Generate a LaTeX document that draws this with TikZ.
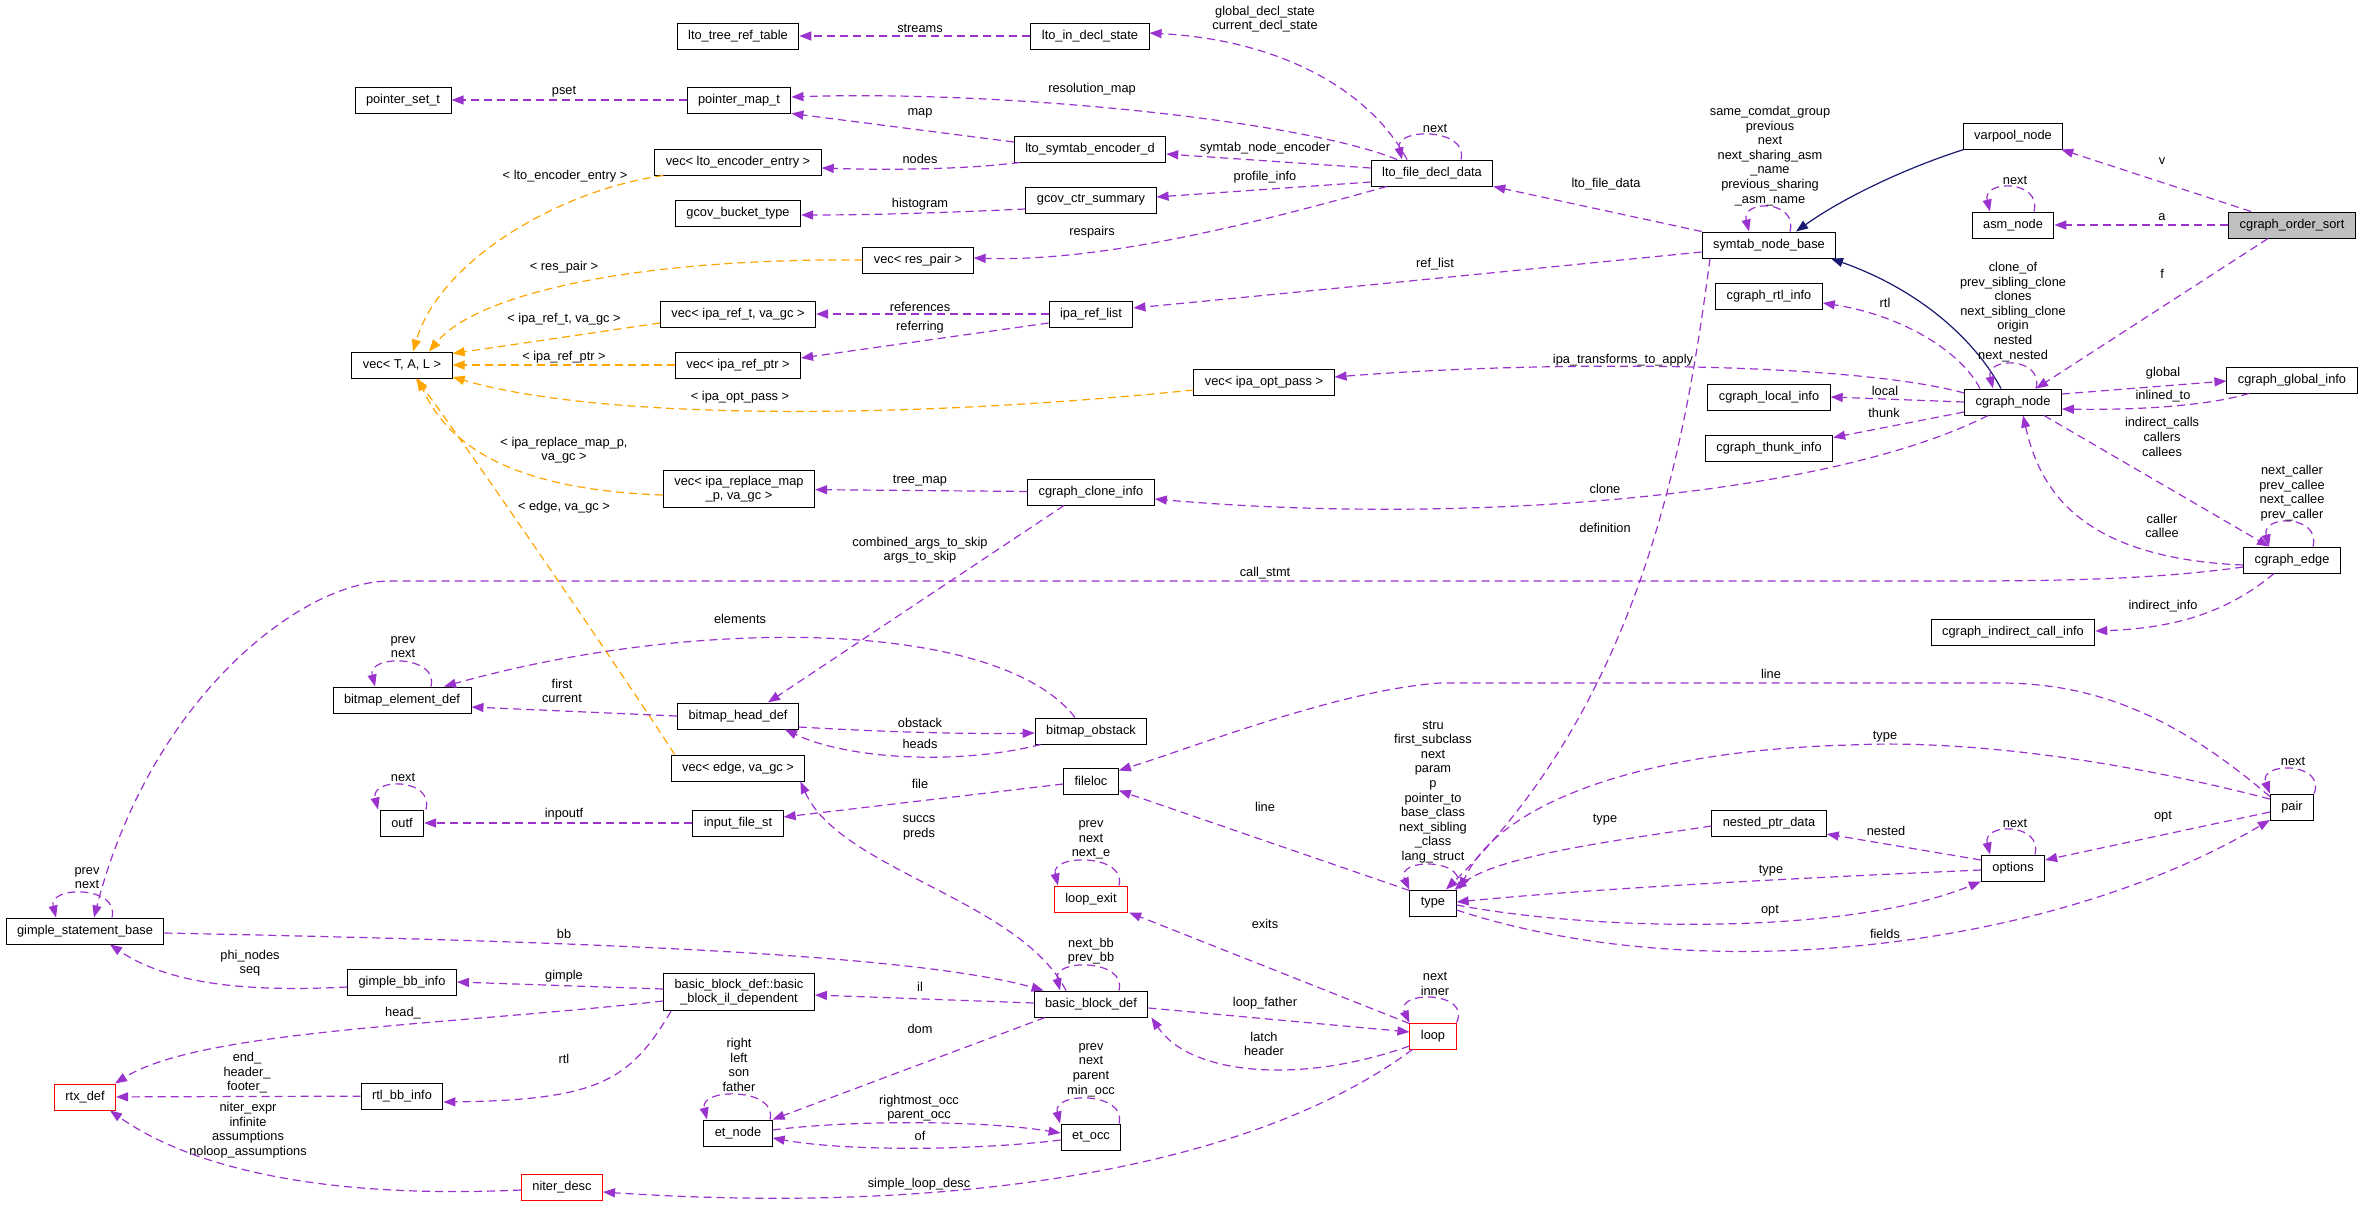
\documentclass[tikz,border=0pt]{standalone}
\usepackage{fontspec}
\setmainfont{Liberation Sans}
\usetikzlibrary{arrows.meta}

\definecolor{edgepurple}{HTML}{9A32CD}
\definecolor{edgeorange}{HTML}{FFA500}
\definecolor{inhblue}{HTML}{191970}
\definecolor{sortgray}{HTML}{BFBFBF}

\begin{document}
\begin{tikzpicture}[x=1pt, y=1pt,
		font=\fontsize{12.8pt}{14.6pt}\selectfont,
		classbox/.style={draw=black, line width=1pt, fill=white, minimum height=26pt, inner xsep=11pt, inner ysep=5.5pt, align=center},
		redbox/.style={classbox, draw=red},
		member/.style={draw=edgepurple, line width=1.2pt, dash pattern=on 8pt off 5pt, -{Triangle[length=12pt,width=9pt]}},
		tmplarg/.style={member, draw=edgeorange},
		inherit/.style={draw=inhblue, line width=1.2pt, -{Triangle[length=12pt,width=9pt]}},
		edgelabel/.style={inner sep=0pt, align=center}]
		\path[use as bounding box, fill=white] (0,0) rectangle (2363,-1205);

		\node[classbox] (treereftab) at (738,-36) {lto\_tree\_ref\_table};
		\node[classbox] (indeclstate) at (1090,-36) {lto\_in\_decl\_state};
		\node[classbox] (pointerset) at (403,-100) {pointer\_set\_t};
		\node[classbox] (pointermap) at (739,-100) {pointer\_map\_t};
		\node[classbox] (vecencoder) at (738,-162) {vec< lto\_encoder\_entry >};
		\node[classbox] (gcovbucket) at (738,-213) {gcov\_bucket\_type};
		\node[classbox] (vecrespair) at (918,-260) {vec< res\_pair >};
		\node[classbox] (symtabencoder) at (1090,-149) {lto\_symtab\_encoder\_d};
		\node[classbox] (gcovsummary) at (1091,-200) {gcov\_ctr\_summary};
		\node[classbox] (filedecldata) at (1432,-173) {lto\_file\_decl\_data};
		\node[classbox] (symtabbase) at (1769,-245) {symtab\_node\_base};
		\node[classbox] (varpool) at (2013,-136) {varpool\_node};
		\node[classbox] (asmnode) at (2013,-225) {asm\_node};
		\node[classbox, fill=sortgray] (ordersort) at (2292,-225) {cgraph\_order\_sort};
		\node[classbox] (rtlinfo) at (1769,-296) {cgraph\_rtl\_info};
		\node[classbox] (vectal) at (402,-365) {vec< T, A, L >};
		\node[classbox] (vecreft) at (738,-314) {vec< ipa\_ref\_t, va\_gc >};
		\node[classbox] (reflist) at (1091,-314) {ipa\_ref\_list};
		\node[classbox] (vecrefptr) at (738,-365) {vec< ipa\_ref\_ptr >};
		\node[classbox] (vecoptpass) at (1264,-382) {vec< ipa\_opt\_pass >};
		\node[classbox] (cgnode) at (2013,-402) {cgraph\_node};
		\node[classbox] (localinfo) at (1769,-397) {cgraph\_local\_info};
		\node[classbox] (thunkinfo) at (1769,-448) {cgraph\_thunk\_info};
		\node[classbox] (globalinfo) at (2292,-380) {cgraph\_global\_info};
		\node[classbox] (vecreplace) at (739,-489) {vec< ipa\_replace\_map\\\_p, va\_gc >};
		\node[classbox] (cloneinfo) at (1091,-492) {cgraph\_clone\_info};
		\node[classbox] (cgedge) at (2292,-560) {cgraph\_edge};
		\node[classbox] (indirectinfo) at (2013,-632) {cgraph\_indirect\_call\_info};
		\node[classbox] (bmelement) at (402,-700) {bitmap\_element\_def};
		\node[classbox] (bmhead) at (738,-716) {bitmap\_head\_def};
		\node[classbox] (bmobstack) at (1091,-731) {bitmap\_obstack};
		\node[classbox] (vecedge) at (738,-768) {vec< edge, va\_gc >};
		\node[classbox] (fileloc) at (1091,-781) {fileloc};
		\node[classbox] (outf) at (402,-823) {outf};
		\node[classbox] (inputfile) at (738,-823) {input\_file\_st};
		\node[classbox] (nestedptr) at (1769,-823) {nested\_ptr\_data};
		\node[classbox] (pair) at (2292,-807) {pair};
		\node[classbox] (options) at (2013,-868) {options};
		\node[redbox] (loopexit) at (1091,-899) {loop\_exit};
		\node[classbox] (type) at (1433,-903) {type};
		\node[classbox] (gimplestmt) at (85,-931) {gimple\_statement\_base};
		\node[classbox] (gimplebb) at (402,-982) {gimple\_bb\_info};
		\node[classbox] (bbil) at (739,-992) {basic\_block\_def::basic\\\_block\_il\_dependent};
		\node[classbox] (bbdef) at (1091,-1004) {basic\_block\_def};
		\node[redbox] (loop) at (1433,-1036) {loop};
		\node[redbox] (rtxdef) at (85,-1097) {rtx\_def};
		\node[classbox] (rtlbb) at (402,-1096) {rtl\_bb\_info};
		\node[classbox] (etnode) at (738,-1133) {et\_node};
		\node[classbox] (etocc) at (1091,-1137) {et\_occ};
		\node[redbox] (niterdesc) at (562,-1187) {niter\_desc};

		\draw[member] (indeclstate) -- (treereftab) node[edgelabel] at (920,-28) {streams};
		\draw[member] ([xshift=-25pt]filedecldata.north) .. controls (1370,-90) and (1280,-40) .. ([yshift=3pt]indeclstate.east) node[edgelabel] at (1265,-19) {global\_decl\_state\\current\_decl\_state};
		\draw[member] ([xshift=29pt]filedecldata.north) .. controls +(8,32) and +(-8,32) .. ([xshift=-30pt]filedecldata.north) node[edgelabel] at (1435,-128) {next};
		\draw[member] (pointermap) -- (pointerset) node[edgelabel] at (564,-92) {pset};
		\draw[member] ([xshift=-35pt]filedecldata.north) .. controls (1300,-120) and (1000,-90) .. ([yshift=3pt]pointermap.east) node[edgelabel] at (1092,-89) {resolution\_map};
		\draw[member] ([yshift=7pt]symtabencoder.west) -- (pointermap.south east) node[edgelabel] at (920,-113) {map};
		\draw[member] ([xshift=6pt]symtabencoder.south west) .. controls (960,-170) and (880,-170) .. ([yshift=-6pt]vecencoder.east) node[edgelabel] at (920,-159) {nodes};
		\draw[member] ([yshift=5pt]filedecldata.west) -- ([yshift=-5pt]symtabencoder.east) node[edgelabel] at (1265,-148) {symtab\_node\_encoder};
		\draw[member] ([yshift=-9pt]filedecldata.west) -- ([yshift=3pt]gcovsummary.east) node[edgelabel] at (1265,-177) {profile\_info};
		\draw[member] ([yshift=-9pt]gcovsummary.west) .. controls (960,-212) and (880,-215) .. ([yshift=-2pt]gcovbucket.east) node[edgelabel] at (920,-204) {histogram};
		\draw[member] ([xshift=16pt]filedecldata.south west) .. controls (1250,-225) and (1100,-262) .. ([yshift=2pt]vecrespair.east) node[edgelabel] at (1092,-232) {respairs};
		\draw[member] (symtabbase.north west) -- (filedecldata.south east) node[edgelabel] at (1606,-184) {lto\_file\_data};
		\draw[member] ([xshift=21pt]symtabbase.north) .. controls +(8,32) and +(-8,32) .. ([xshift=-20pt]symtabbase.north) node[edgelabel] at (1770,-156) {same\_comdat\_group\\previous\\next\\next\_sharing\_asm\\\_name\\previous\_sharing\\\_asm\_name};
		\draw[inherit] ([xshift=1pt]varpool.south west) .. controls (1900,-170) and (1840,-200) .. ([xshift=27pt]symtabbase.north);
		\draw[inherit] ([xshift=-12pt]cgnode.north) .. controls (1975,-340) and (1920,-290) .. ([xshift=62pt]symtabbase.south);
		\draw[member] ([xshift=-41pt]ordersort.north) -- ([xshift=-2pt]varpool.south east) node[edgelabel] at (2162,-161) {v};
		\draw[member] (ordersort) -- (asmnode) node[edgelabel] at (2162,-217) {a};
		\draw[member] ([xshift=21pt]asmnode.north) .. controls +(8,32) and +(-8,32) .. ([xshift=-23pt]asmnode.north) node[edgelabel] at (2015,-180) {next};
		\draw[member] ([xshift=-24pt]ordersort.south) -- ([xshift=23pt]cgnode.north) node[edgelabel] at (2162,-274) {f};
		\draw[member] ([yshift=-7pt]symtabbase.west) .. controls (1500,-272) and (1300,-292) .. ([yshift=6pt]reflist.east) node[edgelabel] at (1435,-264) {ref\_list};
		\draw[member] (reflist) -- (vecreft) node[edgelabel] at (920,-307) {references};
		\draw[member] ([yshift=-9pt]reflist.west) -- ([yshift=7pt]vecrefptr.east) node[edgelabel] at (920,-327) {referring};
		\draw[member] ([yshift=9pt]cgnode.west) .. controls (1850,-362) and (1550,-360) .. ([yshift=5pt]vecoptpass.east) node[edgelabel] at (1623,-360) {ipa\_transforms\_to\_apply};
		\draw[member] ([xshift=-33pt]cgnode.north) .. controls (1960,-350) and (1900,-315) .. ([yshift=-7pt]rtlinfo.east) node[edgelabel] at (1885,-303) {rtl};
		\draw[member] ([xshift=23pt]cgnode.north) .. controls +(8,32) and +(-8,32) .. ([xshift=-20pt]cgnode.north) node[edgelabel] at (2013,-312) {clone\_of\\prev\_sibling\_clone\\clones\\next\_sibling\_clone\\origin\\nested\\next\_nested};
		\draw[member] (cgnode.west) -- (localinfo.east) node[edgelabel] at (1885,-391) {local};
		\draw[member] ([yshift=-10pt]cgnode.west) -- ([yshift=-3pt]thunkinfo.north east) node[edgelabel] at (1884,-413) {thunk};
		\draw[member] ([yshift=8pt]cgnode.east) -- ([yshift=-1pt]globalinfo.west) node[edgelabel] at (2163,-373) {global};
		\draw[member] ([xshift=-43pt]globalinfo.south) .. controls (2200,-408) and (2120,-410) .. ([yshift=-7pt]cgnode.east) node[edgelabel] at (2163,-396) {inlined\_to};
		\draw[member] ([xshift=31pt]cgnode.south) -- ([xshift=-23pt]cgedge.north) node[edgelabel] at (2162,-437) {indirect\_calls\\callers\\callees};
		\draw[member] ([yshift=-5pt]cgedge.west) .. controls (2080,-558) and (2040,-490) .. ([xshift=10pt]cgnode.south) node[edgelabel] at (2162,-526) {caller\\callee};
		\draw[member] ([xshift=21pt]cgedge.north) .. controls +(8,32) and +(-8,32) .. ([xshift=-23pt]cgedge.north) node[edgelabel] at (2292,-493) {next\_caller\\prev\_callee\\next\_callee\\prev\_caller};
		\draw[member] ([xshift=-25pt]cgnode.south) .. controls (1820,-500) and (1450,-525) .. ([yshift=-7pt]cloneinfo.east) node[edgelabel] at (1605,-489) {clone};
		\draw[member] ([xshift=-59pt]symtabbase.south) .. controls (1685,-450) and (1640,-700) .. ([xshift=13pt]type.north) node[edgelabel] at (1605,-528) {definition};
		\draw[member] ([yshift=-7pt]cgedge.west) .. controls (2150,-580) and (2050,-581) .. (1950,-581) -- (390,-581) .. controls (300,-581) and (150,-700) .. ([xshift=9pt]gimplestmt.north) node[edgelabel] at (1265,-573) {call\_stmt};
		\draw[member] ([xshift=-18pt]cgedge.south) .. controls (2230,-610) and (2180,-628) .. ([yshift=1pt]indirectinfo.east) node[edgelabel] at (2163,-606) {indirect\_info};

		\draw[tmplarg] ([xshift=9pt]vecencoder.south west) .. controls (560,-190) and (440,-260) .. ([xshift=11pt]vectal.north) node[edgelabel] at (565,-176) {< lto\_encoder\_entry >};
		\draw[tmplarg] (vecrespair.west) .. controls (650,-258) and (480,-290) .. ([xshift=27pt]vectal.north) node[edgelabel] at (564,-267) {< res\_pair >};
		\draw[tmplarg] ([yshift=-9pt]vecreft.west) -- ([yshift=-2pt]vectal.north east) node[edgelabel] at (564,-319) {< ipa\_ref\_t, va\_gc >};
		\draw[tmplarg] (vecrefptr) -- (vectal) node[edgelabel] at (564,-357) {< ipa\_ref\_ptr >};
		\draw[tmplarg] ([yshift=-8pt]vecoptpass.west) .. controls (900,-420) and (600,-420) .. ([yshift=-12pt]vectal.east) node[edgelabel] at (740,-397) {< ipa\_opt\_pass >};
		\draw[tmplarg] ([yshift=-6pt]vecreplace.west) .. controls (520,-490) and (450,-450) .. ([xshift=16pt]vectal.south) node[edgelabel] at (564,-450) {< ipa\_replace\_map\_p,\\va\_gc >};
		\draw[tmplarg] ([xshift=4pt]vecedge.north west) .. controls (640,-700) and (470,-450) .. ([xshift=14pt]vectal.south) node[edgelabel] at (564,-507) {< edge, va\_gc >};

		\draw[member] (cloneinfo) -- (vecreplace) node[edgelabel] at (920,-481) {tree\_map};
		\draw[member] ([xshift=-27pt]cloneinfo.south) -- ([xshift=30pt]bmhead.north) node[edgelabel] at (920,-550) {combined\_args\_to\_skip\\args\_to\_skip};
		\draw[member] ([xshift=-16pt]bmobstack.north) .. controls (1000,-620) and (700,-615) .. ([xshift=42pt]bmelement.north) node[edgelabel] at (740,-619) {elements};
		\draw[member] ([xshift=29pt]bmelement.north) .. controls +(8,32) and +(-8,32) .. ([xshift=-27pt]bmelement.north) node[edgelabel] at (403,-647) {prev\\next};
		\draw[member] (bmhead.west) -- ([yshift=-7pt]bmelement.east) node[edgelabel] at (562,-691) {first\\current};
		\draw[member] ([yshift=-11pt]bmhead.east) .. controls (900,-733) and (980,-734) .. ([yshift=-2pt]bmobstack.west) node[edgelabel] at (920,-723) {obstack};
		\draw[member] ([xshift=6pt]bmobstack.south west) .. controls (960,-765) and (850,-760) .. ([xshift=-14pt]bmhead.south east) node[edgelabel] at (920,-744) {heads};
		\draw[member] ([xshift=24pt]outf.north) .. controls +(8,32) and +(-8,32) .. ([xshift=-24pt]outf.north) node[edgelabel] at (403,-777) {next};
		\draw[member] (inputfile) -- (outf) node[edgelabel] at (564,-814) {inpoutf};
		\draw[member] ([yshift=-3pt]fileloc.west) -- ([yshift=6pt]inputfile.east) node[edgelabel] at (920,-784) {file};
		\draw[member] ([yshift=-3pt]pair.north west) .. controls (2180,-720) and (2100,-683) .. (2000,-683) -- (1440,-683) .. controls (1340,-690) and (1200,-745) .. ([yshift=-3pt]fileloc.north east) node[edgelabel] at (1771,-674) {line};
		\draw[member] ([yshift=-1pt]type.north west) -- ([yshift=4pt]fileloc.south east) node[edgelabel] at (1265,-807) {line};
		\draw[member] ([xshift=-25pt]bbdef.north) .. controls (1020,-900) and (840,-870) .. ([xshift=-5pt]vecedge.south east) node[edgelabel] at (919,-828) {succs\\preds};
		\draw[member] ([xshift=28pt]loopexit.north) .. controls +(8,32) and +(-8,32) .. ([xshift=-33pt]loopexit.north) node[edgelabel] at (1091,-840) {prev\\next\\next\_e};
		\draw[member] (type.north east) .. controls +(15,32) and +(-15,32) .. (type.north west) node[edgelabel] at (1433,-792) {stru\\first\_subclass\\next\\param\\p\\pointer\_to\\base\_class\\next\_sibling\\\_class\\lang\_struct};
		\draw[member] ([yshift=8pt]pair.west) .. controls (2100,-755) and (1950,-740) .. (1850,-745) .. controls (1650,-750) and (1500,-800) .. ([xshift=3pt]type.north east) node[edgelabel] at (1885,-737) {type};
		\draw[member] ([yshift=-3pt]nestedptr.west) .. controls (1620,-840) and (1500,-855) .. ([xshift=-2pt]type.north east) node[edgelabel] at (1605,-820) {type};
		\draw[member] ([yshift=8pt]options.west) -- ([yshift=-11pt]nestedptr.east) node[edgelabel] at (1886,-831) {nested};
		\draw[member] ([xshift=22pt]options.north) .. controls +(8,32) and +(-8,32) .. ([xshift=-23pt]options.north) node[edgelabel] at (2015,-823) {next};
		\draw[member] ([yshift=-2pt]options.west) .. controls (1800,-878) and (1600,-888) .. ([yshift=1pt]type.east) node[edgelabel] at (1771,-871) {type};
		\draw[member] ([yshift=-5pt]pair.west) -- ([yshift=8pt]options.east) node[edgelabel] at (2163,-817) {opt};
		\draw[member] (pair.north east) .. controls +(12,32) and +(-12,32) .. (pair.north west) node[edgelabel] at (2293,-761) {next};
		\draw[member] ([yshift=-2pt]type.east) .. controls (1600,-932) and (1850,-935) .. (options.south west) node[edgelabel] at (1770,-911) {opt};
		\draw[member] ([yshift=-7pt]type.east) .. controls (1700,-990) and (2050,-950) .. ([yshift=-13pt]pair.west) node[edgelabel] at (1885,-934) {fields};

		\draw[member] ([yshift=-2pt]gimplestmt.east) .. controls (500,-940) and (900,-950) .. ([xshift=10pt]bbdef.north west) node[edgelabel] at (564,-934) {bb};
		\draw[member] ([xshift=27pt]gimplestmt.north) .. controls +(8,32) and +(-8,32) .. ([xshift=-29pt]gimplestmt.north) node[edgelabel] at (87,-878) {prev\\next};
		\draw[member] ([yshift=-5pt]gimplebb.west) .. controls (250,-992) and (170,-985) .. ([xshift=25pt]gimplestmt.south) node[edgelabel] at (250,-963) {phi\_nodes\\seq};
		\draw[member] ([yshift=3pt]bbil.west) -- (gimplebb.east) node[edgelabel] at (564,-976) {gimple};
		\draw[member] ([yshift=-9pt]bbil.west) .. controls (450,-1025) and (200,-1030) .. ([xshift=30pt]rtxdef.north) node[edgelabel] at (403,-1013) {head\_};
		\draw[member] ([xshift=-68pt]bbil.south) .. controls (630,-1080) and (600,-1100) .. ([yshift=-6pt]rtlbb.east) node[edgelabel] at (564,-1059) {rtl};
		\draw[member] (rtlbb) -- (rtxdef) node[edgelabel] at (247,-1073) {end\_\\header\_\\footer\_};
		\draw[member] ([yshift=-3pt]niterdesc.west) .. controls (300,-1200) and (180,-1160) .. ([xshift=25pt]rtxdef.south) node[edgelabel] at (248,-1130) {niter\_expr\\infinite\\assumptions\\noloop\_assumptions};
		\draw[member] ([yshift=1pt]bbdef.west) -- ([yshift=-3pt]bbil.east) node[edgelabel] at (920,-987) {il};
		\draw[member] ([xshift=28pt]bbdef.north) .. controls +(8,32) and +(-8,32) .. ([xshift=-31pt]bbdef.north) node[edgelabel] at (1091,-951) {next\_bb\\prev\_bb};
		\draw[member] ([yshift=-4pt]bbdef.east) -- ([yshift=4pt]loop.west) node[edgelabel] at (1265,-1003) {loop\_father};
		\draw[member] ([yshift=-10pt]loop.west) .. controls (1300,-1085) and (1190,-1075) .. ([xshift=3pt]bbdef.south east) node[edgelabel] at (1264,-1044) {latch\\header};
		\draw[member] ([yshift=-1pt]loop.north west) -- ([xshift=1pt]loopexit.south east) node[edgelabel] at (1265,-924) {exits};
		\draw[member] (loop.north east) .. controls +(15,32) and +(-15,32) .. (loop.north west) node[edgelabel] at (1435,-984) {next\\inner};
		\draw[member] ([xshift=-46pt]bbdef.south) -- (etnode.north east) node[edgelabel] at (920,-1029) {dom};
		\draw[member] ([xshift=32pt]etnode.north) .. controls +(8,32) and +(-8,32) .. ([xshift=-31pt]etnode.north) node[edgelabel] at (739,-1065) {right\\left\\son\\father};
		\draw[member] ([yshift=3pt]etnode.east) .. controls (850,-1120) and (980,-1120) .. ([yshift=4pt]etocc.west) node[edgelabel] at (919,-1108) {rightmost\_occ\\parent\_occ};
		\draw[member] ([yshift=-3pt]etocc.west) .. controls (980,-1150) and (850,-1152) .. ([yshift=-5pt]etnode.east) node[edgelabel] at (920,-1136) {of};
		\draw[member] ([xshift=28pt]etocc.north) .. controls +(8,32) and +(-8,32) .. ([xshift=-31pt]etocc.north) node[edgelabel] at (1091,-1070) {prev\\next\\parent\\min\_occ};
		\draw[member] ([xshift=3pt]loop.south west) .. controls (1250,-1170) and (950,-1215) .. ([yshift=-5pt]niterdesc.east) node[edgelabel] at (919,-1184) {simple\_loop\_desc};
	\end{tikzpicture}
\end{document}
